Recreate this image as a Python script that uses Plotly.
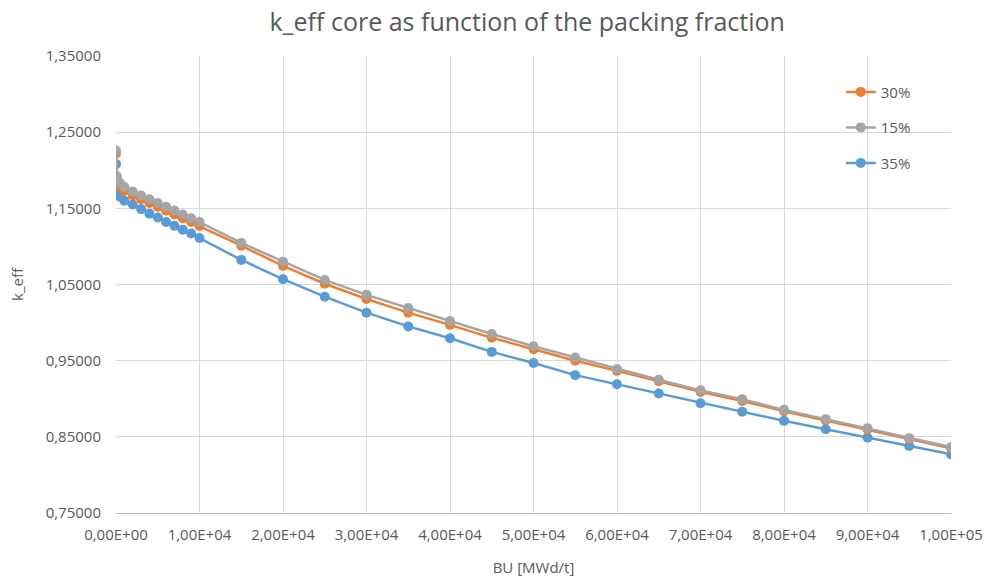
import plotly.graph_objects as go

# Burnup steps [MWd/t]
bu = [0, 100, 500, 1000, 2000, 3000, 4000, 5000, 6000, 7000, 8000, 9000, 10000,
      15000, 20000, 25000, 30000, 35000, 40000, 45000, 50000, 55000, 60000,
      65000, 70000, 75000, 80000, 85000, 90000, 95000, 100000]

# k_eff of the core for each packing fraction
keff_30 = [1.222, 1.187, 1.178, 1.173, 1.167, 1.162, 1.157, 1.152, 1.147, 1.142, 1.137, 1.132, 1.127,
           1.101, 1.0745, 1.051, 1.031, 1.013, 0.997, 0.980, 0.965, 0.950, 0.9366,
           0.923, 0.909, 0.897, 0.8837, 0.8714, 0.8596, 0.847, 0.835]
keff_15 = [1.226, 1.192, 1.183, 1.178, 1.172, 1.167, 1.162, 1.157, 1.152, 1.147, 1.142, 1.137, 1.132,
           1.1046, 1.080, 1.056, 1.0364, 1.019, 1.002, 0.985, 0.969, 0.954, 0.939,
           0.925, 0.911, 0.8995, 0.8854, 0.8732, 0.8614, 0.8483, 0.8365]
keff_35 = [1.208, 1.175, 1.165, 1.160, 1.155, 1.149, 1.143, 1.138, 1.132, 1.127, 1.122, 1.117, 1.111,
           1.0823, 1.057, 1.034, 1.013, 0.995, 0.9795, 0.9615, 0.947, 0.931, 0.919,
           0.907, 0.894, 0.883, 0.871, 0.860, 0.849, 0.838, 0.827]

x_ticks = [0, 10000, 20000, 30000, 40000, 50000, 60000, 70000, 80000, 90000, 100000]
x_tick_text = ["0,00E+00", "1,00E+04", "2,00E+04", "3,00E+04", "4,00E+04", "5,00E+04",
               "6,00E+04", "7,00E+04", "8,00E+04", "9,00E+04", "1,00E+05"]

series = [
    ("35%", keff_35, "#5B9BD5", 3),
    ("30%", keff_30, "#ED7D31", 1),
    ("15%", keff_15, "#A5A5A5", 2),
]

fig = go.Figure()
for name, ys, color, rank in series:
    fig.add_trace(go.Scatter(
        x=bu, y=ys, name=name, mode="lines+markers",
        line=dict(color=color, width=2.5),
        marker=dict(color=color, size=10),
        legendrank=rank, legendgroup=name,
    ))

font_family = "'Open Sans', Lato, sans-serif"
fig.update_layout(
    width=991, height=581,
    margin=dict(l=116, r=40, t=56, b=68),
    paper_bgcolor="white", plot_bgcolor="white",
    separators=",.",
    font=dict(family=font_family, size=15, color="#595959"),
    title=dict(text="k_eff core as function of the packing fraction",
               font=dict(size=25, color="#595959"),
               x=0.532, xanchor="center", y=0.962, yanchor="middle"),
    legend=dict(x=0.868, xanchor="left", y=0.957, yanchor="top",
                traceorder="grouped", tracegroupgap=13,
                font=dict(size=15, color="#595959"), bgcolor="rgba(0,0,0,0)"),
    xaxis=dict(range=[0, 100000], tickvals=x_ticks, ticktext=x_tick_text,
               showgrid=True, gridcolor="#D9D9D9", gridwidth=1,
               showline=True, linecolor="#BFBFBF", linewidth=1,
               zeroline=False, ticks="", ticklen=0, ticklabelstandoff=8,
               automargin=False,
               title=dict(text="BU [MWd/t]", font=dict(size=15, color="#595959"), standoff=19)),
    yaxis=dict(range=[0.75, 1.35], dtick=0.1, tick0=0.75, tickformat=".5f",
               showgrid=True, gridcolor="#D9D9D9", gridwidth=1,
               showline=False, zeroline=False, ticks="", ticklabelstandoff=14,
               automargin=False,
               title=dict(text="k_eff", font=dict(size=15, color="#595959"), standoff=18)),
)

fig.write_html("out.html")
